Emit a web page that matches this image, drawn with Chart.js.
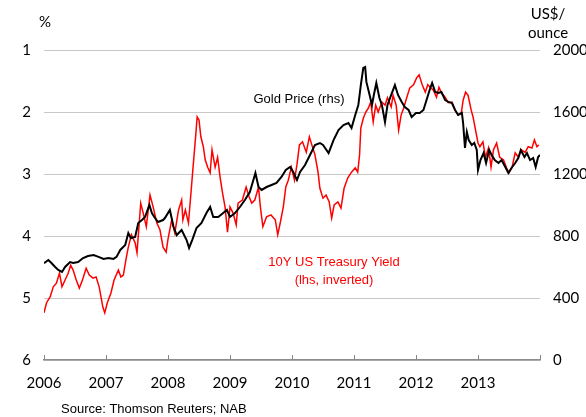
<!DOCTYPE html>
<html>
<head>
<meta charset="utf-8">
<script src="https://cdn.jsdelivr.net/npm/chart.js@4"></script>
<style>
    html, body { margin: 0; padding: 0; background: #fff; }
    canvas { display: block; }
</style>
</head>
<body>
<canvas id="goldChart" width="586" height="417"></canvas>
<script>
// Gold price, US$/ounce (rhs)
const goldYears = [
    2006.00, 2006.07, 2006.12, 2006.18, 2006.23, 2006.29, 2006.34, 2006.42, 2006.47, 2006.55,
    2006.63, 2006.71, 2006.80, 2006.88, 2006.96, 2007.04, 2007.12, 2007.17, 2007.23, 2007.31,
    2007.36, 2007.40, 2007.47, 2007.52, 2007.58, 2007.63, 2007.70, 2007.74, 2007.79, 2007.84,
    2007.92, 2007.95, 2008.03, 2008.09, 2008.14, 2008.22, 2008.30, 2008.34, 2008.39, 2008.46,
    2008.54, 2008.62, 2008.68, 2008.73, 2008.81, 2008.89, 2008.95, 2009.00, 2009.08, 2009.16,
    2009.24, 2009.32, 2009.41, 2009.46, 2009.51, 2009.59, 2009.67, 2009.75, 2009.83, 2009.90,
    2009.97, 2010.02, 2010.08, 2010.13, 2010.21, 2010.29, 2010.37, 2010.45, 2010.50, 2010.59,
    2010.67, 2010.75, 2010.83, 2010.91, 2010.96, 2011.02, 2011.07, 2011.11, 2011.15, 2011.18,
    2011.20, 2011.24, 2011.29, 2011.32, 2011.36, 2011.41, 2011.45, 2011.50, 2011.54, 2011.60,
    2011.66, 2011.71, 2011.77, 2011.82, 2011.88, 2011.93, 2012.00, 2012.06, 2012.12, 2012.17,
    2012.23, 2012.26, 2012.31, 2012.36, 2012.41, 2012.47, 2012.52, 2012.58, 2012.63, 2012.68,
    2012.74, 2012.76, 2012.79, 2012.82, 2012.85, 2012.90, 2012.94, 2012.98, 2013.00, 2013.04,
    2013.09, 2013.13, 2013.18, 2013.22, 2013.27, 2013.33, 2013.38, 2013.44, 2013.49, 2013.54,
    2013.60, 2013.65, 2013.69, 2013.75, 2013.79, 2013.84, 2013.89, 2013.93, 2013.97, 2014.00
];
const goldPrice = [
    624, 645, 626, 600, 581, 568, 600, 632, 626, 632,
    658, 671, 677, 665, 652, 658, 652, 665, 710, 742,
    819, 787, 794, 884, 903, 923, 1000, 948, 916, 890,
    903, 916, 968, 858, 806, 839, 774, 723, 774, 852,
    884, 948, 987, 923, 923, 948, 968, 923, 948, 987,
    1032, 1084, 1206, 1116, 1097, 1116, 1129, 1142, 1181, 1226,
    1245, 1213, 1161, 1213, 1258, 1323, 1387, 1400, 1387, 1335,
    1419, 1484, 1516, 1529, 1497, 1581, 1645, 1774, 1884, 1890,
    1794, 1729, 1645, 1710, 1787, 1690, 1645, 1535, 1645, 1710,
    1774, 1710, 1665, 1632, 1613, 1568, 1594, 1594, 1613, 1677,
    1755, 1787, 1729, 1723, 1729, 1677, 1665, 1658, 1613, 1581,
    1594, 1529, 1368, 1471, 1419, 1387, 1400, 1355, 1226, 1290,
    1335, 1271, 1355, 1323, 1290, 1271, 1290, 1245, 1206, 1239,
    1271, 1303, 1355, 1310, 1335, 1290, 1303, 1245, 1310, 1323
];

// 10Y US Treasury yield, % (lhs, inverted)
const yieldYears = [
    2006.00, 2006.04, 2006.10, 2006.15, 2006.20, 2006.25, 2006.29, 2006.34, 2006.39, 2006.43,
    2006.47, 2006.52, 2006.57, 2006.62, 2006.68, 2006.73, 2006.79, 2006.84, 2006.89, 2006.95,
    2006.98, 2007.02, 2007.08, 2007.13, 2007.20, 2007.24, 2007.28, 2007.32, 2007.36, 2007.41,
    2007.47, 2007.50, 2007.56, 2007.60, 2007.65, 2007.71, 2007.76, 2007.82, 2007.87, 2007.92,
    2007.97, 2008.00, 2008.06, 2008.11, 2008.17, 2008.22, 2008.24, 2008.28, 2008.33, 2008.37,
    2008.41, 2008.45, 2008.47, 2008.50, 2008.53, 2008.57, 2008.60, 2008.64, 2008.68, 2008.71,
    2008.76, 2008.80, 2008.84, 2008.88, 2008.92, 2008.96, 2009.00, 2009.05, 2009.10, 2009.13,
    2009.20, 2009.26, 2009.31, 2009.35, 2009.40, 2009.46, 2009.49, 2009.53, 2009.59, 2009.66,
    2009.73, 2009.77, 2009.81, 2009.86, 2009.90, 2009.94, 2009.99, 2010.04, 2010.08, 2010.12,
    2010.17, 2010.23, 2010.28, 2010.32, 2010.37, 2010.42, 2010.45, 2010.50, 2010.55, 2010.60,
    2010.64, 2010.68, 2010.74, 2010.79, 2010.84, 2010.90, 2010.96, 2011.02, 2011.06, 2011.09,
    2011.11, 2011.15, 2011.19, 2011.23, 2011.27, 2011.31, 2011.35, 2011.39, 2011.45, 2011.50,
    2011.54, 2011.60, 2011.63, 2011.68, 2011.72, 2011.76, 2011.80, 2011.85, 2011.90, 2011.96,
    2012.01, 2012.05, 2012.10, 2012.15, 2012.19, 2012.23, 2012.28, 2012.33, 2012.37, 2012.41,
    2012.47, 2012.52, 2012.58, 2012.63, 2012.68, 2012.73, 2012.76, 2012.80, 2012.84, 2012.89,
    2012.92, 2012.96, 2013.00, 2013.03, 2013.08, 2013.12, 2013.17, 2013.21, 2013.25, 2013.30,
    2013.35, 2013.41, 2013.46, 2013.50, 2013.55, 2013.60, 2013.65, 2013.70, 2013.76, 2013.81,
    2013.87, 2013.91, 2013.95, 2013.98
];
const yieldPct = [
    5.24, 5.08, 4.98, 4.82, 4.76, 4.60, 4.82, 4.71, 4.60, 4.47,
    4.55, 4.71, 4.84, 4.71, 4.52, 4.63, 4.68, 4.66, 4.82, 5.15,
    5.24, 5.08, 4.92, 4.71, 4.55, 4.66, 4.63, 4.39, 4.18, 3.98,
    4.11, 4.27, 3.47, 3.63, 3.85, 3.34, 3.53, 3.79, 3.90, 4.18,
    4.26, 4.05, 3.74, 3.95, 3.58, 3.42, 3.74, 3.58, 3.79, 3.31,
    2.82, 2.34, 2.08, 2.13, 2.40, 2.56, 2.77, 2.89, 2.98, 2.61,
    2.89, 2.73, 3.05, 3.31, 3.53, 3.94, 3.53, 3.63, 3.82, 3.47,
    3.42, 3.21, 3.37, 3.47, 3.42, 3.21, 3.53, 3.85, 3.69, 3.66,
    3.74, 3.98, 3.79, 3.53, 3.21, 3.10, 2.89, 3.10, 2.85, 2.53,
    2.48, 2.65, 2.40, 2.53, 2.69, 2.97, 3.23, 3.39, 3.34, 3.45,
    3.71, 3.50, 3.45, 3.55, 3.23, 3.06, 2.97, 2.90, 2.97, 2.69,
    2.26, 2.10, 2.00, 1.94, 1.84, 2.16, 1.89, 2.00, 1.84, 1.89,
    1.77, 1.92, 1.73, 1.89, 2.29, 2.05, 1.94, 1.77, 1.61, 1.56,
    1.45, 1.40, 1.56, 1.68, 1.56, 1.60, 1.65, 1.76, 1.60, 1.69,
    1.76, 1.85, 1.84, 1.97, 2.05, 2.02, 1.81, 1.68, 1.73, 1.97,
    2.08, 2.29, 2.50, 2.56, 2.48, 2.73, 2.58, 2.89, 2.61, 2.50,
    2.73, 2.77, 2.90, 2.98, 2.89, 2.66, 2.73, 2.61, 2.65, 2.56,
    2.58, 2.45, 2.56, 2.53
];

// axis ranges / tick labels
const yearTicks = [2006, 2007, 2008, 2009, 2010, 2011, 2012, 2013, 2014];
const lhsRange = [1, 6];
const rhsRange = [0, 2000];

const toPoints = (xs, ys) => xs.map((x, i) => ({ x: x, y: ys[i] }));

// text annotations drawn after the chart
const annotations = {
    id: 'annotations',
    afterDraw(chart) {
        const ctx = chart.ctx;
        const xs = chart.scales.x;
        ctx.save();
        ctx.textBaseline = 'middle';

        // small inside ticks on the x axis
        ctx.strokeStyle = '#888';
        ctx.lineWidth = 1;
        yearTicks.forEach(yr => {
            const px = Math.round(xs.getPixelForValue(yr)) + 0.5;
            ctx.beginPath();
            ctx.moveTo(px, chart.chartArea.bottom);
            ctx.lineTo(px, chart.chartArea.bottom - 5);
            ctx.stroke();
        });

        ctx.fillStyle = '#000';
        ctx.font = '15px Lato';
        ctx.textAlign = 'center';
        ctx.fillText('%', 45, 22);
        ctx.fillText('US$/', 548, 14);
        ctx.fillText('ounce', 548, 33);

        ctx.font = '13px "Liberation Sans"';
        ctx.fillText('Gold Price (rhs)', 299, 99);

        ctx.fillStyle = '#ff0000';
        ctx.fillText('10Y US Treasury Yield', 334, 262);
        ctx.fillText('(lhs, inverted)', 334, 280);

        ctx.fillStyle = '#000';
        ctx.textAlign = 'left';
        ctx.fillText('Source: Thomson Reuters; NAB', 61, 409);
        ctx.restore();
    }
};

Chart.defaults.font.family = 'Lato';
Chart.defaults.font.size = 15;
Chart.defaults.color = '#000';

new Chart(document.getElementById('goldChart').getContext('2d'), {
    type: 'line',
    data: {
        datasets: [{
            label: 'Gold Price (rhs)',
            data: toPoints(goldYears, goldPrice),
            yAxisID: 'yRight',
            borderColor: '#000',
            borderWidth: 2,
            pointRadius: 0,
            tension: 0,
            fill: false
        }, {
            label: '10Y US Treasury Yield (lhs, inverted)',
            data: toPoints(yieldYears, yieldPct),
            yAxisID: 'yLeft',
            borderColor: '#ff0000',
            borderWidth: 1.5,
            pointRadius: 0,
            tension: 0,
            fill: false
        }]
    },
    options: {
        responsive: false,
        animation: false,
        layout: { padding: { top: 50, left: 0, right: 0, bottom: 0 } },
        plugins: {
            legend: { display: false },
            tooltip: { enabled: false }
        },
        scales: {
            x: {
                type: 'linear',
                min: yearTicks[0],
                max: yearTicks[yearTicks.length - 1],
                afterBuildTicks: s => { s.ticks = yearTicks.map(v => ({ value: v })); },
                afterFit: s => { s.height = 57; },
                ticks: {
                    padding: 14,
                    callback: v => (v === 2014 ? '' : String(v))
                },
                grid: { display: false, drawTicks: false },
                border: { display: true, color: '#8c8c8c', width: 1.5 }
            },
            yLeft: {
                position: 'left',
                reverse: true,
                min: lhsRange[0],
                max: lhsRange[1],
                afterFit: s => { s.width = 44; },
                ticks: { stepSize: 1, padding: 13, callback: v => String(v) },
                grid: { color: '#c8c8c8', drawTicks: false },
                border: { display: false }
            },
            yRight: {
                position: 'right',
                min: rhsRange[0],
                max: rhsRange[1],
                afterFit: s => { s.width = 46; },
                ticks: { stepSize: 400, padding: 13, callback: v => String(v) },
                grid: { display: false, drawTicks: false },
                border: { display: false }
            }
        }
    },
    plugins: [annotations]
});
</script>
</body>
</html>
